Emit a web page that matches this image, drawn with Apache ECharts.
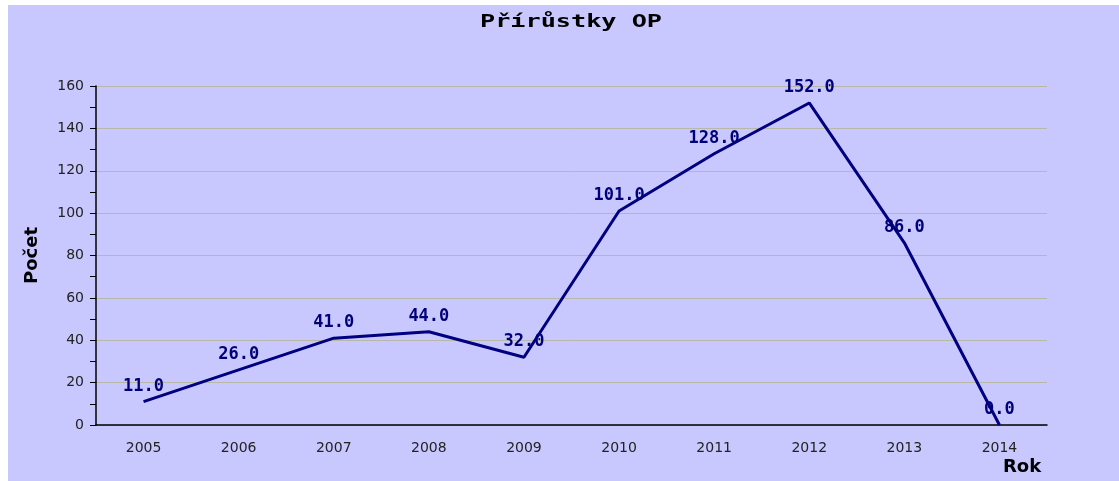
<!DOCTYPE html>
<html>
<head>
<meta charset="utf-8">
<script src="https://cdn.jsdelivr.net/npm/echarts@6/dist/echarts.min.js"></script>
<style>
    body { margin: 0; background: #ffffff; }
    #main { position: absolute; left: 8px; top: 5px; width: 1111px; height: 476px; background: #c8c8ff; }
</style>
</head>
<body>
<div id="main"></div>
<script>
    // data
    var years = ['2005', '2006', '2007', '2008', '2009', '2010', '2011', '2012', '2013', '2014'];
    var counts = [11, 26, 41, 44, 32, 101, 128, 152, 86, 0];
    var chartTitle = 'Přírůstky OP';

    var monoFont = '"DejaVu Sans Mono", "Liberation Mono", monospace';

    var option = {
        animation: false,
        backgroundColor: '#c8c8ff',
        // title drawn as graphic text so it can be stretched like the wide pixel font
        graphic: [{
            type: 'text',
            x: 563,
            y: 17,
            originX: 0,
            originY: 0,
            scaleX: 1.4,
            style: {
                text: chartTitle,
                font: 'bold 18px "DejaVu Sans Mono", monospace',
                fill: '#000',
                align: 'center',
                verticalAlign: 'middle'
            }
        }],
        grid: { left: 88, right: 72, top: 81, bottom: 56 },
        xAxis: {
            type: 'category',
            data: years,
            name: 'Rok',
            nameLocation: 'end',
            nameGap: -44,
            nameTextStyle: {
                fontFamily: 'DejaVu Sans', fontWeight: 'bold', fontSize: 18, color: '#000',
                align: 'left', verticalAlign: 'top', padding: [33, 0, 0, 0]
            },
            axisLine: { lineStyle: { color: '#000', width: 1.5 } },
            axisTick: { alignWithLabel: true, length: 6, lineStyle: { color: '#000' } },
            axisLabel: { fontFamily: 'DejaVu Sans', fontSize: 14, color: '#222', margin: 16 },
            splitLine: { show: false }
        },
        yAxis: {
            type: 'value',
            min: 0,
            max: 160,
            interval: 20,
            name: 'Počet',
            nameLocation: 'middle',
            nameGap: 55,
            nameTextStyle: { fontFamily: 'DejaVu Sans', fontWeight: 'bold', fontSize: 18, color: '#000' },
            axisLine: { show: true, lineStyle: { color: '#000', width: 1.5 } },
            axisTick: { show: true, length: 6, lineStyle: { color: '#000' } },
            minorTick: { show: true, splitNumber: 2, length: 6, lineStyle: { color: '#000' } },
            axisLabel: { fontFamily: 'DejaVu Sans', fontSize: 14, color: '#222', margin: 12 },
            splitLine: { lineStyle: { color: '#b8b8a8', width: 1 } }
        },
        series: [{
            type: 'line',
            data: counts,
            symbol: 'circle',
            symbolSize: 0.1,
            lineStyle: { color: '#000080', width: 3 },
            itemStyle: { color: '#000080' },
            label: {
                show: true,
                position: 'top',
                distance: 7,
                fontFamily: monoFont,
                fontWeight: 'bold',
                fontSize: 17,
                color: '#00007a',
                formatter: function (p) { return p.value.toFixed(1); }
            }
        }]
    };

    var chart = echarts.init(document.getElementById('main'));
    chart.setOption(option);
</script>
</body>
</html>
